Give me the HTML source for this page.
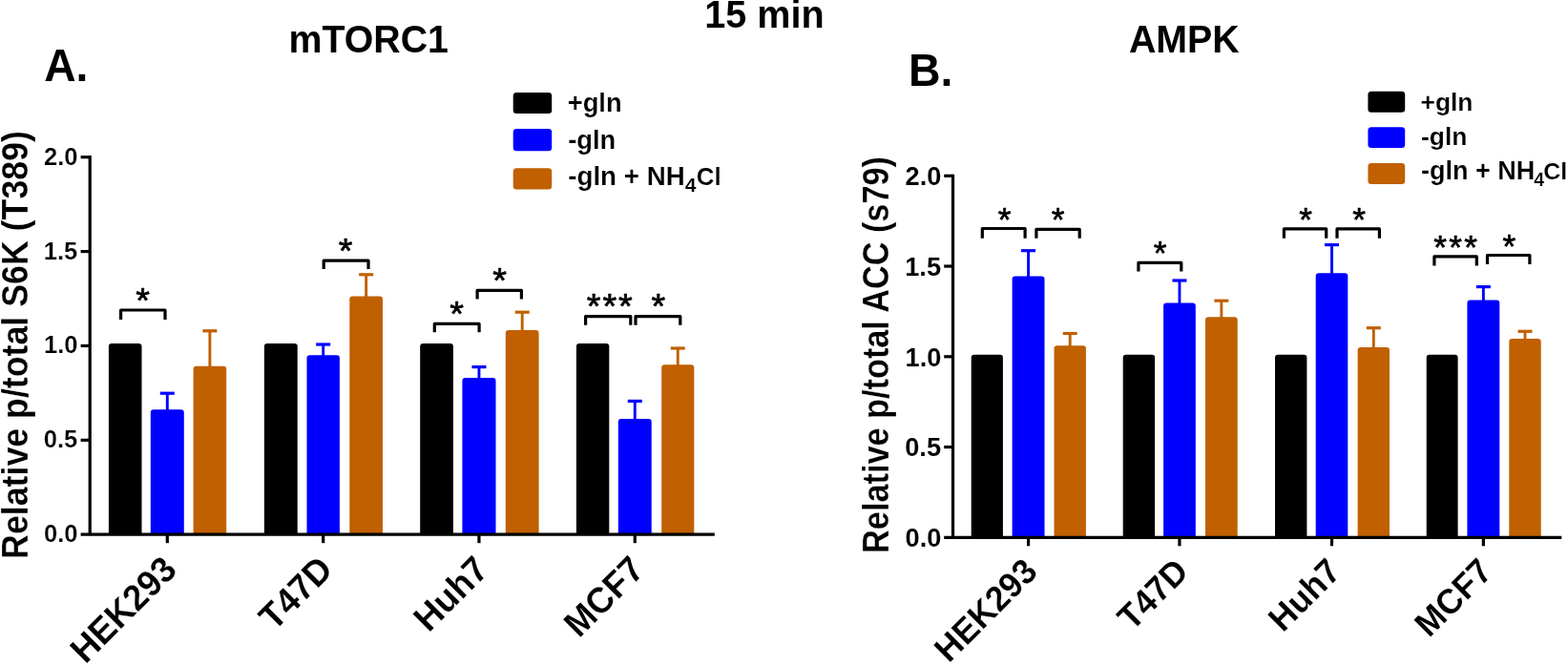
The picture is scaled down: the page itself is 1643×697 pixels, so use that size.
<!DOCTYPE html>
<html lang="en"><head><meta charset="utf-8"><title>Figure</title>
<style>
html,body{margin:0;padding:0;background:#fff;}
body{width:1643px;height:697px;overflow:hidden;}
svg{display:block;font-family:"Liberation Sans",Arial,Helvetica,sans-serif;fill:#000;}
</style></head><body>
<svg width="1643" height="697" viewBox="0 0 1643 697">
<rect width="1643" height="697" fill="#fff"/>
<path d="M113.9,560.2 V363.1 Q113.9,359.9 117.1,359.9 H145.3 Q148.5,359.9 148.5,363.1 V560.2 Z" fill="#000000"/>
<path d="M175.3,431.3 V412.2" stroke="#0000ff" stroke-width="2.9" fill="none"/><path d="M167.8,412.2 H182.8" stroke="#0000ff" stroke-width="3.2" fill="none"/>
<path d="M157.8,560.2 V432.5 Q157.8,429.3 161,429.3 H189.6 Q192.8,429.3 192.8,432.5 V560.2 Z" fill="#0000ff"/>
<path d="M219.9,385.8 V346.8" stroke="#c06000" stroke-width="2.9" fill="none"/><path d="M212.4,346.8 H227.4" stroke="#c06000" stroke-width="3.2" fill="none"/>
<path d="M202.6,560.2 V387 Q202.6,383.8 205.8,383.8 H234 Q237.2,383.8 237.2,387 V560.2 Z" fill="#c06000"/>
<path d="M276.9,560.2 V363.1 Q276.9,359.9 280.1,359.9 H308.5 Q311.7,359.9 311.7,363.1 V560.2 Z" fill="#000000"/>
<path d="M338.7,374.2 V361" stroke="#0000ff" stroke-width="2.9" fill="none"/><path d="M331.2,361 H346.2" stroke="#0000ff" stroke-width="3.2" fill="none"/>
<path d="M321.5,560.2 V375.4 Q321.5,372.2 324.7,372.2 H352.7 Q355.9,372.2 355.9,375.4 V560.2 Z" fill="#0000ff"/>
<path d="M383.65,312.5 V287.8" stroke="#c06000" stroke-width="2.9" fill="none"/><path d="M376.15,287.8 H391.15" stroke="#c06000" stroke-width="3.2" fill="none"/>
<path d="M366.3,560.2 V313.7 Q366.3,310.5 369.5,310.5 H397.8 Q401,310.5 401,313.7 V560.2 Z" fill="#c06000"/>
<path d="M440.2,560.2 V363.1 Q440.2,359.9 443.4,359.9 H471.7 Q474.9,359.9 474.9,363.1 V560.2 Z" fill="#000000"/>
<path d="M501.95,397.9 V384.6" stroke="#0000ff" stroke-width="2.9" fill="none"/><path d="M494.45,384.6 H509.45" stroke="#0000ff" stroke-width="3.2" fill="none"/>
<path d="M484.4,560.2 V399.1 Q484.4,395.9 487.6,395.9 H516.3 Q519.5,395.9 519.5,399.1 V560.2 Z" fill="#0000ff"/>
<path d="M547.2,347.9 V327.2" stroke="#c06000" stroke-width="2.9" fill="none"/><path d="M539.7,327.2 H554.7" stroke="#c06000" stroke-width="3.2" fill="none"/>
<path d="M529.8,560.2 V349.1 Q529.8,345.9 533,345.9 H561.4 Q564.6,345.9 564.6,349.1 V560.2 Z" fill="#c06000"/>
<path d="M603.9,560.2 V363.1 Q603.9,359.9 607.1,359.9 H635.1 Q638.3,359.9 638.3,363.1 V560.2 Z" fill="#000000"/>
<path d="M665.25,441 V420.4" stroke="#0000ff" stroke-width="2.9" fill="none"/><path d="M657.75,420.4 H672.75" stroke="#0000ff" stroke-width="3.2" fill="none"/>
<path d="M647.8,560.2 V442.2 Q647.8,439 651,439 H679.5 Q682.7,439 682.7,442.2 V560.2 Z" fill="#0000ff"/>
<path d="M710.25,384.2 V365" stroke="#c06000" stroke-width="2.9" fill="none"/><path d="M702.75,365 H717.75" stroke="#c06000" stroke-width="3.2" fill="none"/>
<path d="M693.2,560.2 V385.4 Q693.2,382.2 696.4,382.2 H724.1 Q727.3,382.2 727.3,385.4 V560.2 Z" fill="#c06000"/>
<path d="M94.2,163.1 V560.2 M84.6,560.2 H748.8" stroke="#000" stroke-width="3.2" fill="none"/>
<text transform="translate(46,568.2) scale(1,0.9902)" font-size="25.63" font-weight="bold" stroke="#fff" stroke-width="0.2" stroke-linejoin="round" >0.0</text>
<path d="M84.6,461.33 H94.2" stroke="#000" stroke-width="3.2"/>
<text transform="translate(45.68,469.33) scale(1,0.9902)" font-size="25.63" font-weight="bold" stroke="#fff" stroke-width="0.2" stroke-linejoin="round" >0.5</text>
<path d="M84.6,362.45 H94.2" stroke="#000" stroke-width="3.2"/>
<text transform="translate(46,370.45) scale(1,0.9902)" font-size="25.63" font-weight="bold" stroke="#fff" stroke-width="0.2" stroke-linejoin="round" >1.0</text>
<path d="M84.6,263.57 H94.2" stroke="#000" stroke-width="3.2"/>
<text transform="translate(45.68,271.57) scale(1,0.9902)" font-size="25.63" font-weight="bold" stroke="#fff" stroke-width="0.2" stroke-linejoin="round" >1.5</text>
<path d="M84.6,164.7 H94.2" stroke="#000" stroke-width="3.2"/>
<text transform="translate(46,172.7) scale(1,0.9902)" font-size="25.63" font-weight="bold" stroke="#fff" stroke-width="0.2" stroke-linejoin="round" >2.0</text>
<path d="M175.3,560.2 V569.2" stroke="#000" stroke-width="3.2"/>
<text transform="translate(187.2,599) rotate(-45) scale(1.0000,1.0400)" font-size="36.60" font-weight="bold" text-anchor="end" stroke="#fff" stroke-width="0.15" stroke-linejoin="round">HEK293</text>
<path d="M338.7,560.2 V569.2" stroke="#000" stroke-width="3.2"/>
<text transform="translate(350.6,599) rotate(-45) scale(1.0000,1.0400)" font-size="36.60" font-weight="bold" text-anchor="end" stroke="#fff" stroke-width="0.15" stroke-linejoin="round">T47D</text>
<path d="M501.95,560.2 V569.2" stroke="#000" stroke-width="3.2"/>
<text transform="translate(513.85,599) rotate(-45) scale(1.0000,1.0400)" font-size="36.60" font-weight="bold" text-anchor="end" stroke="#fff" stroke-width="0.15" stroke-linejoin="round">Huh7</text>
<path d="M665.25,560.2 V569.2" stroke="#000" stroke-width="3.2"/>
<text transform="translate(677.15,599) rotate(-45) scale(1.0000,1.0400)" font-size="36.60" font-weight="bold" text-anchor="end" stroke="#fff" stroke-width="0.15" stroke-linejoin="round">MCF7</text>
<path d="M1017.7,563.3 V374.9 Q1017.7,371.7 1020.9,371.7 H1047.7 Q1050.9,371.7 1050.9,374.9 V563.3 Z" fill="#000000"/>
<path d="M1077.55,291.5 V262.7" stroke="#0000ff" stroke-width="2.9" fill="none"/><path d="M1070.05,262.7 H1085.05" stroke="#0000ff" stroke-width="3.2" fill="none"/>
<path d="M1060.6,563.3 V292.7 Q1060.6,289.5 1063.8,289.5 H1091.3 Q1094.5,289.5 1094.5,292.7 V563.3 Z" fill="#0000ff"/>
<path d="M1121.2,364.2 V349.5" stroke="#c06000" stroke-width="2.9" fill="none"/><path d="M1113.7,349.5 H1128.7" stroke="#c06000" stroke-width="3.2" fill="none"/>
<path d="M1104.5,563.3 V365.4 Q1104.5,362.2 1107.7,362.2 H1134.7 Q1137.9,362.2 1137.9,365.4 V563.3 Z" fill="#c06000"/>
<path d="M1176.7,563.3 V374.9 Q1176.7,371.7 1179.9,371.7 H1206.9 Q1210.1,371.7 1210.1,374.9 V563.3 Z" fill="#000000"/>
<path d="M1235.95,319.6 V294" stroke="#0000ff" stroke-width="2.9" fill="none"/><path d="M1228.45,294 H1243.45" stroke="#0000ff" stroke-width="3.2" fill="none"/>
<path d="M1219.1,563.3 V320.8 Q1219.1,317.6 1222.3,317.6 H1249.6 Q1252.8,317.6 1252.8,320.8 V563.3 Z" fill="#0000ff"/>
<path d="M1279.85,334.2 V315.2" stroke="#c06000" stroke-width="2.9" fill="none"/><path d="M1272.35,315.2 H1287.35" stroke="#c06000" stroke-width="3.2" fill="none"/>
<path d="M1263,563.3 V335.4 Q1263,332.2 1266.2,332.2 H1293.5 Q1296.7,332.2 1296.7,335.4 V563.3 Z" fill="#c06000"/>
<path d="M1336,563.3 V374.9 Q1336,371.7 1339.2,371.7 H1366.2 Q1369.4,371.7 1369.4,374.9 V563.3 Z" fill="#000000"/>
<path d="M1395.5,288.3 V256.6" stroke="#0000ff" stroke-width="2.9" fill="none"/><path d="M1388,256.6 H1403" stroke="#0000ff" stroke-width="3.2" fill="none"/>
<path d="M1378.7,563.3 V289.5 Q1378.7,286.3 1381.9,286.3 H1409.1 Q1412.3,286.3 1412.3,289.5 V563.3 Z" fill="#0000ff"/>
<path d="M1439.3,365.9 V343.7" stroke="#c06000" stroke-width="2.9" fill="none"/><path d="M1431.8,343.7 H1446.8" stroke="#c06000" stroke-width="3.2" fill="none"/>
<path d="M1422.6,563.3 V367.1 Q1422.6,363.9 1425.8,363.9 H1452.8 Q1456,363.9 1456,367.1 V563.3 Z" fill="#c06000"/>
<path d="M1494.7,563.3 V374.9 Q1494.7,371.7 1497.9,371.7 H1524.4 Q1527.6,371.7 1527.6,374.9 V563.3 Z" fill="#000000"/>
<path d="M1554.35,316.6 V300.6" stroke="#0000ff" stroke-width="2.9" fill="none"/><path d="M1546.85,300.6 H1561.85" stroke="#0000ff" stroke-width="3.2" fill="none"/>
<path d="M1537.4,563.3 V317.8 Q1537.4,314.6 1540.6,314.6 H1568.1 Q1571.3,314.6 1571.3,317.8 V563.3 Z" fill="#0000ff"/>
<path d="M1598,356.9 V347.3" stroke="#c06000" stroke-width="2.9" fill="none"/><path d="M1590.5,347.3 H1605.5" stroke="#c06000" stroke-width="3.2" fill="none"/>
<path d="M1581.3,563.3 V358.1 Q1581.3,354.9 1584.5,354.9 H1611.5 Q1614.7,354.9 1614.7,358.1 V563.3 Z" fill="#c06000"/>
<path d="M998.5,182.7 V563.3 M989.2,563.3 H1636.3" stroke="#000" stroke-width="3.2" fill="none"/>
<text transform="translate(948.55,573.1) scale(1,1.0216)" font-size="27.22" font-weight="bold" stroke="#fff" stroke-width="0.05" stroke-linejoin="round" >0.0</text>
<path d="M989.2,468.55 H998.5" stroke="#000" stroke-width="3.2"/>
<text transform="translate(948.21,478.35) scale(1,1.0216)" font-size="27.22" font-weight="bold" stroke="#fff" stroke-width="0.05" stroke-linejoin="round" >0.5</text>
<path d="M989.2,373.8 H998.5" stroke="#000" stroke-width="3.2"/>
<text transform="translate(948.55,383.6) scale(1,1.0216)" font-size="27.22" font-weight="bold" stroke="#fff" stroke-width="0.05" stroke-linejoin="round" >1.0</text>
<path d="M989.2,279.05 H998.5" stroke="#000" stroke-width="3.2"/>
<text transform="translate(948.21,288.85) scale(1,1.0216)" font-size="27.22" font-weight="bold" stroke="#fff" stroke-width="0.05" stroke-linejoin="round" >1.5</text>
<path d="M989.2,184.3 H998.5" stroke="#000" stroke-width="3.2"/>
<text transform="translate(948.55,194.1) scale(1,1.0216)" font-size="27.22" font-weight="bold" stroke="#fff" stroke-width="0.05" stroke-linejoin="round" >2.0</text>
<path d="M1077.55,563.3 V572.3" stroke="#000" stroke-width="3.2"/>
<text transform="translate(1088.95,601.1) rotate(-45) scale(1.0000,1.0400)" font-size="35.40" font-weight="bold" text-anchor="end" stroke="#fff" stroke-width="0.15" stroke-linejoin="round">HEK293</text>
<path d="M1235.95,563.3 V572.3" stroke="#000" stroke-width="3.2"/>
<text transform="translate(1247.35,601.1) rotate(-45) scale(1.0000,1.0400)" font-size="35.40" font-weight="bold" text-anchor="end" stroke="#fff" stroke-width="0.15" stroke-linejoin="round">T47D</text>
<path d="M1395.5,563.3 V572.3" stroke="#000" stroke-width="3.2"/>
<text transform="translate(1406.9,601.1) rotate(-45) scale(1.0000,1.0400)" font-size="35.40" font-weight="bold" text-anchor="end" stroke="#fff" stroke-width="0.15" stroke-linejoin="round">Huh7</text>
<path d="M1554.35,563.3 V572.3" stroke="#000" stroke-width="3.2"/>
<text transform="translate(1565.75,601.1) rotate(-45) scale(1.0000,1.0400)" font-size="35.40" font-weight="bold" text-anchor="end" stroke="#fff" stroke-width="0.15" stroke-linejoin="round">MCF7</text>
<text transform="translate(28.5,585.91) rotate(-90) scale(1.0000,1.0660)" font-size="35.75" font-weight="bold" text-anchor="start" stroke="#fff" stroke-width="0.2" stroke-linejoin="round">Relative p/total S6K (T389)</text>
<text transform="translate(930.8,579.91) rotate(-90) scale(1.0000,1.1071)" font-size="34.29" font-weight="bold" text-anchor="start" stroke="#fff" stroke-width="0.2" stroke-linejoin="round">Relative p/total ACC (s79)</text>
<text transform="translate(302.51,54.9) scale(1,1.0400)" font-size="39.30" font-weight="bold"  >mTORC1</text>
<text transform="translate(738.32,28.8) scale(1,1.0320)" font-size="39.61" font-weight="bold"  >15 min</text>
<text transform="translate(1182.92,54.9) scale(1,1.0388)" font-size="39.35" font-weight="bold"  >AMPK</text>
<text transform="translate(46.14,85.2) scale(1,1.0466)" font-size="46.28" font-weight="bold"  >A.</text>
<text transform="translate(951.96,90.3) scale(1,1.0454)" font-size="46.47" font-weight="bold"  >B.</text>
<rect x="537.7" y="97" width="40.5" height="22.1" rx="3.5" fill="#000000"/>
<rect x="537.7" y="134.9" width="40.5" height="23.3" rx="3.5" fill="#0000ff"/>
<rect x="537.7" y="176.3" width="40.5" height="22.3" rx="3.5" fill="#c06000"/>
<text transform="translate(594.74,117.4) scale(1,0.9894)" font-size="27.32" font-weight="bold" stroke="#fff" stroke-width="0.15" stroke-linejoin="round">+gln</text>
<text transform="translate(595.21,155.6) scale(1,0.9894)" font-size="27.32" font-weight="bold" stroke="#fff" stroke-width="0.15" stroke-linejoin="round">-gln</text>
<text transform="translate(595.19,193.5) scale(1,0.9894)" font-size="27.77" font-weight="bold" stroke="#fff" stroke-width="0.15" stroke-linejoin="round">-gln + NH<tspan x="122.69" dy="7.07" font-size="21.19">4</tspan><tspan x="134.58" dy="-7.07" font-size="25.84">Cl</tspan></text>
<rect x="1433.4" y="95.7" width="38.8" height="22" rx="3.5" fill="#000000"/>
<rect x="1433.4" y="133.2" width="38.8" height="21.9" rx="3.5" fill="#0000ff"/>
<rect x="1433.4" y="171.1" width="38.8" height="22" rx="3.5" fill="#c06000"/>
<text transform="translate(1488.58,116) scale(1,0.9941)" font-size="26.36" font-weight="bold" stroke="#fff" stroke-width="0.15" stroke-linejoin="round">+gln</text>
<text transform="translate(1489.05,152.2) scale(1,0.9941)" font-size="26.36" font-weight="bold" stroke="#fff" stroke-width="0.15" stroke-linejoin="round">-gln</text>
<text transform="translate(1489.02,188.3) scale(1,0.9941)" font-size="27.03" font-weight="bold" stroke="#fff" stroke-width="0.15" stroke-linejoin="round">-gln + NH<tspan x="118.29" dy="6.74" font-size="19.44">4</tspan><tspan x="128.18" dy="-6.74" font-size="24.94">Cl</tspan></text>
<path d="M126.6,334.9 V325 H173 V334.9" stroke="#000" stroke-width="3.2" fill="none" stroke-linejoin="round"/>
<text x="142.3" y="328.27" font-size="37.70" font-weight="normal" letter-spacing="1.93" stroke="#000" stroke-width="0.7" stroke-linejoin="round">*</text>
<path d="M339.2,282 V273.1 H386 V282" stroke="#000" stroke-width="3.2" fill="none" stroke-linejoin="round"/>
<text x="354.7" y="275.67" font-size="37.70" font-weight="normal" letter-spacing="1.93" stroke="#000" stroke-width="0.7" stroke-linejoin="round">*</text>
<path d="M455.3,348.3 V339.4 H502.1 V348.3" stroke="#000" stroke-width="3.2" fill="none" stroke-linejoin="round"/>
<text x="471.2" y="341.77" font-size="37.70" font-weight="normal" letter-spacing="1.93" stroke="#000" stroke-width="0.7" stroke-linejoin="round">*</text>
<path d="M500.1,313.4 V304.3 H546.4 V313.4" stroke="#000" stroke-width="3.2" fill="none" stroke-linejoin="round"/>
<text x="516.15" y="306.57" font-size="37.70" font-weight="normal" letter-spacing="1.93" stroke="#000" stroke-width="0.7" stroke-linejoin="round">*</text>
<path d="M613.6,340.7 V331.6 H660.8 V340.7" stroke="#000" stroke-width="3.2" fill="none" stroke-linejoin="round"/>
<text x="614.8" y="333.97" font-size="37.70" font-weight="normal" letter-spacing="1.93" stroke="#000" stroke-width="0.7" stroke-linejoin="round">***</text>
<path d="M666,340.7 V331.6 H712.8 V340.7" stroke="#000" stroke-width="3.2" fill="none" stroke-linejoin="round"/>
<text x="682.4" y="334.27" font-size="37.70" font-weight="normal" letter-spacing="1.93" stroke="#000" stroke-width="0.7" stroke-linejoin="round">*</text>
<path d="M1029.3,249.8 V239.5 H1074.1 V249.8" stroke="#000" stroke-width="3.2" fill="none" stroke-linejoin="round"/>
<text x="1045.64" y="242.13" font-size="35.20" font-weight="normal" letter-spacing="2.3" stroke="#000" stroke-width="0.7" stroke-linejoin="round">*</text>
<path d="M1085.9,249.8 V240.4 H1131.2 V249.8" stroke="#000" stroke-width="3.2" fill="none" stroke-linejoin="round"/>
<text x="1101.74" y="242.43" font-size="35.20" font-weight="normal" letter-spacing="2.3" stroke="#000" stroke-width="0.7" stroke-linejoin="round">*</text>
<path d="M1192.9,284.6 V275.3 H1237.8 V284.6" stroke="#000" stroke-width="3.2" fill="none" stroke-linejoin="round"/>
<text x="1208.74" y="277.23" font-size="35.20" font-weight="normal" letter-spacing="2.3" stroke="#000" stroke-width="0.7" stroke-linejoin="round">*</text>
<path d="M1345.4,249.8 V239.9 H1389.7 V249.8" stroke="#000" stroke-width="3.2" fill="none" stroke-linejoin="round"/>
<text x="1361.19" y="242.13" font-size="35.20" font-weight="normal" letter-spacing="2.3" stroke="#000" stroke-width="0.7" stroke-linejoin="round">*</text>
<path d="M1401,249.8 V239.9 H1445.4 V249.8" stroke="#000" stroke-width="3.2" fill="none" stroke-linejoin="round"/>
<text x="1417.29" y="242.13" font-size="35.20" font-weight="normal" letter-spacing="2.3" stroke="#000" stroke-width="0.7" stroke-linejoin="round">*</text>
<path d="M1502.9,278.6 V268.9 H1547.3 V278.6" stroke="#000" stroke-width="3.2" fill="none" stroke-linejoin="round"/>
<text x="1502.34" y="271.13" font-size="35.20" font-weight="normal" letter-spacing="2.3" stroke="#000" stroke-width="0.7" stroke-linejoin="round">***</text>
<path d="M1558.5,277 V267.5 H1602.9 V277" stroke="#000" stroke-width="3.2" fill="none" stroke-linejoin="round"/>
<text x="1574.54" y="269.93" font-size="35.20" font-weight="normal" letter-spacing="2.3" stroke="#000" stroke-width="0.7" stroke-linejoin="round">*</text>
</svg>
</body></html>
